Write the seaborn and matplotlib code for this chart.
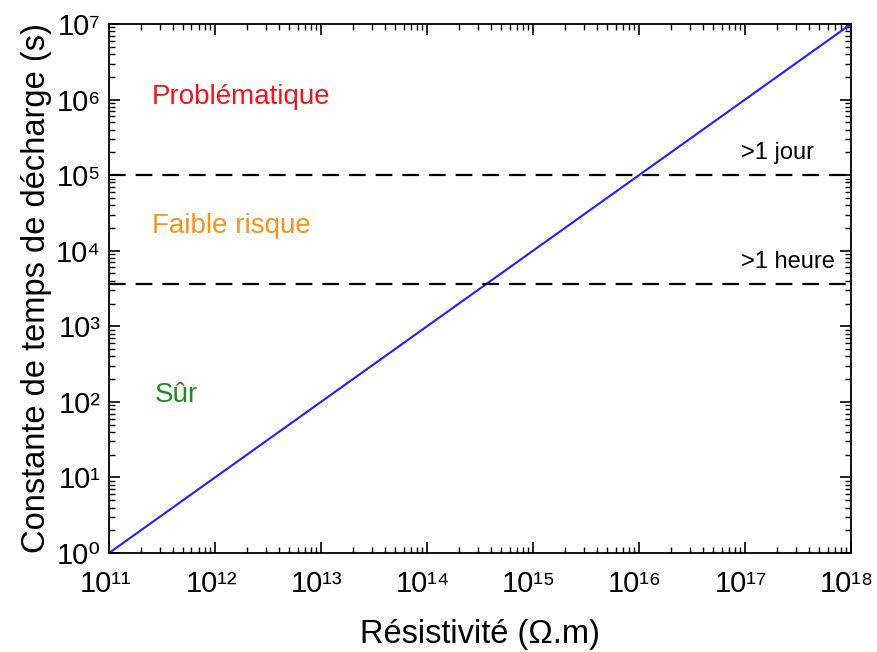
import numpy as np
import pandas as pd
import matplotlib
matplotlib.use("Agg")
import matplotlib.pyplot as plt
import matplotlib.transforms as mtransforms
import seaborn as sns
from matplotlib.ticker import LogLocator, NullFormatter, FuncFormatter

# data
resistivity = [1e11, 1e18]          # Ohm.m
decay_time = [1e0, 1e7]             # s
thresholds = [1e5, 3600]            # >1 jour, >1 heure
threshold_labels = [">1 jour", ">1 heure"]
zone_labels = ["Problématique", "Faible risque", "Sûr"]
zone_colors = ["#f5141e", "#f7931e", "#1e8a1e"]

sns.set_theme(style="ticks")
plt.rcParams['font.family'] = ['Liberation Sans', 'DejaVu Sans']

SUP = str.maketrans("0123456789-", "⁰¹²³⁴⁵⁶⁷⁸⁹⁻")


def pow10(v, pos):
    return "10" + str(int(round(np.log10(v)))).translate(SUP)


def decades(lims):
    lo, hi = np.log10(lims)
    return 10.0 ** np.arange(int(lo), int(hi) + 1)


df = pd.DataFrame({"rho": resistivity, "tau": decay_time})

fig = plt.figure(figsize=(8.77, 6.52), dpi=100)
ax = fig.add_axes([0.1243, 0.1518, 0.8461, 0.8114])

sns.lineplot(data=df, x="rho", y="tau", ax=ax, color="#1f1fff", linewidth=1.5)
for t in thresholds:
    ax.axhline(t, color="black", linestyle=(0, (7.5, 4.5)), linewidth=1.6)

ax.set_xscale("log")
ax.set_yscale("log")
ax.set_xticks(decades(resistivity))
ax.set_yticks(decades(decay_time))
ax.xaxis.set_minor_locator(LogLocator(base=10, subs=np.arange(2, 10), numticks=100))
ax.yaxis.set_minor_locator(LogLocator(base=10, subs=np.arange(2, 10), numticks=100))
ax.xaxis.set_major_formatter(FuncFormatter(pow10))
ax.yaxis.set_major_formatter(FuncFormatter(pow10))
ax.xaxis.set_minor_formatter(NullFormatter())
ax.yaxis.set_minor_formatter(NullFormatter())
ax.set_xlim(resistivity)
ax.set_ylim(decay_time)

ax.tick_params(which="both", direction="in", top=True, right=True, colors="black")
ax.tick_params(which="major", length=8, width=1.2, labelsize=21)
ax.tick_params(axis="x", which="major", pad=12)
ax.tick_params(axis="y", which="major", pad=6)
ax.tick_params(which="minor", length=4, width=1.0)
for s in ax.spines.values():
    s.set_color("black")
    s.set_linewidth(1.3)

# nudge x tick labels a little to the left, like the original
shift = mtransforms.ScaledTranslation(-4 / 100, 0, fig.dpi_scale_trans)
for lbl in ax.get_xticklabels():
    lbl.set_transform(lbl.get_transform() + shift)

ax.set_xlabel("Résistivité (Ω.m)", fontsize=23.5, labelpad=15, color="black")
ax.set_ylabel("Constante de temps de décharge (s)", fontsize=23.5, labelpad=3, color="black")

zone_pos = [(0.058, 0.862), (0.058, 0.618), (0.062, 0.299)]
for lab, col, (xp, yp) in zip(zone_labels, zone_colors, zone_pos):
    ax.text(xp, yp, lab, color=col, fontsize=20, ha="left", va="center",
            transform=ax.transAxes)

thr_pos = [(0.852, 0.756), (0.852, 0.55)]
for lab, (xp, yp) in zip(threshold_labels, thr_pos):
    ax.text(xp, yp, lab, color="black", fontsize=17, ha="left", va="center",
            transform=ax.transAxes)

fig.savefig("out.png", dpi=100)
